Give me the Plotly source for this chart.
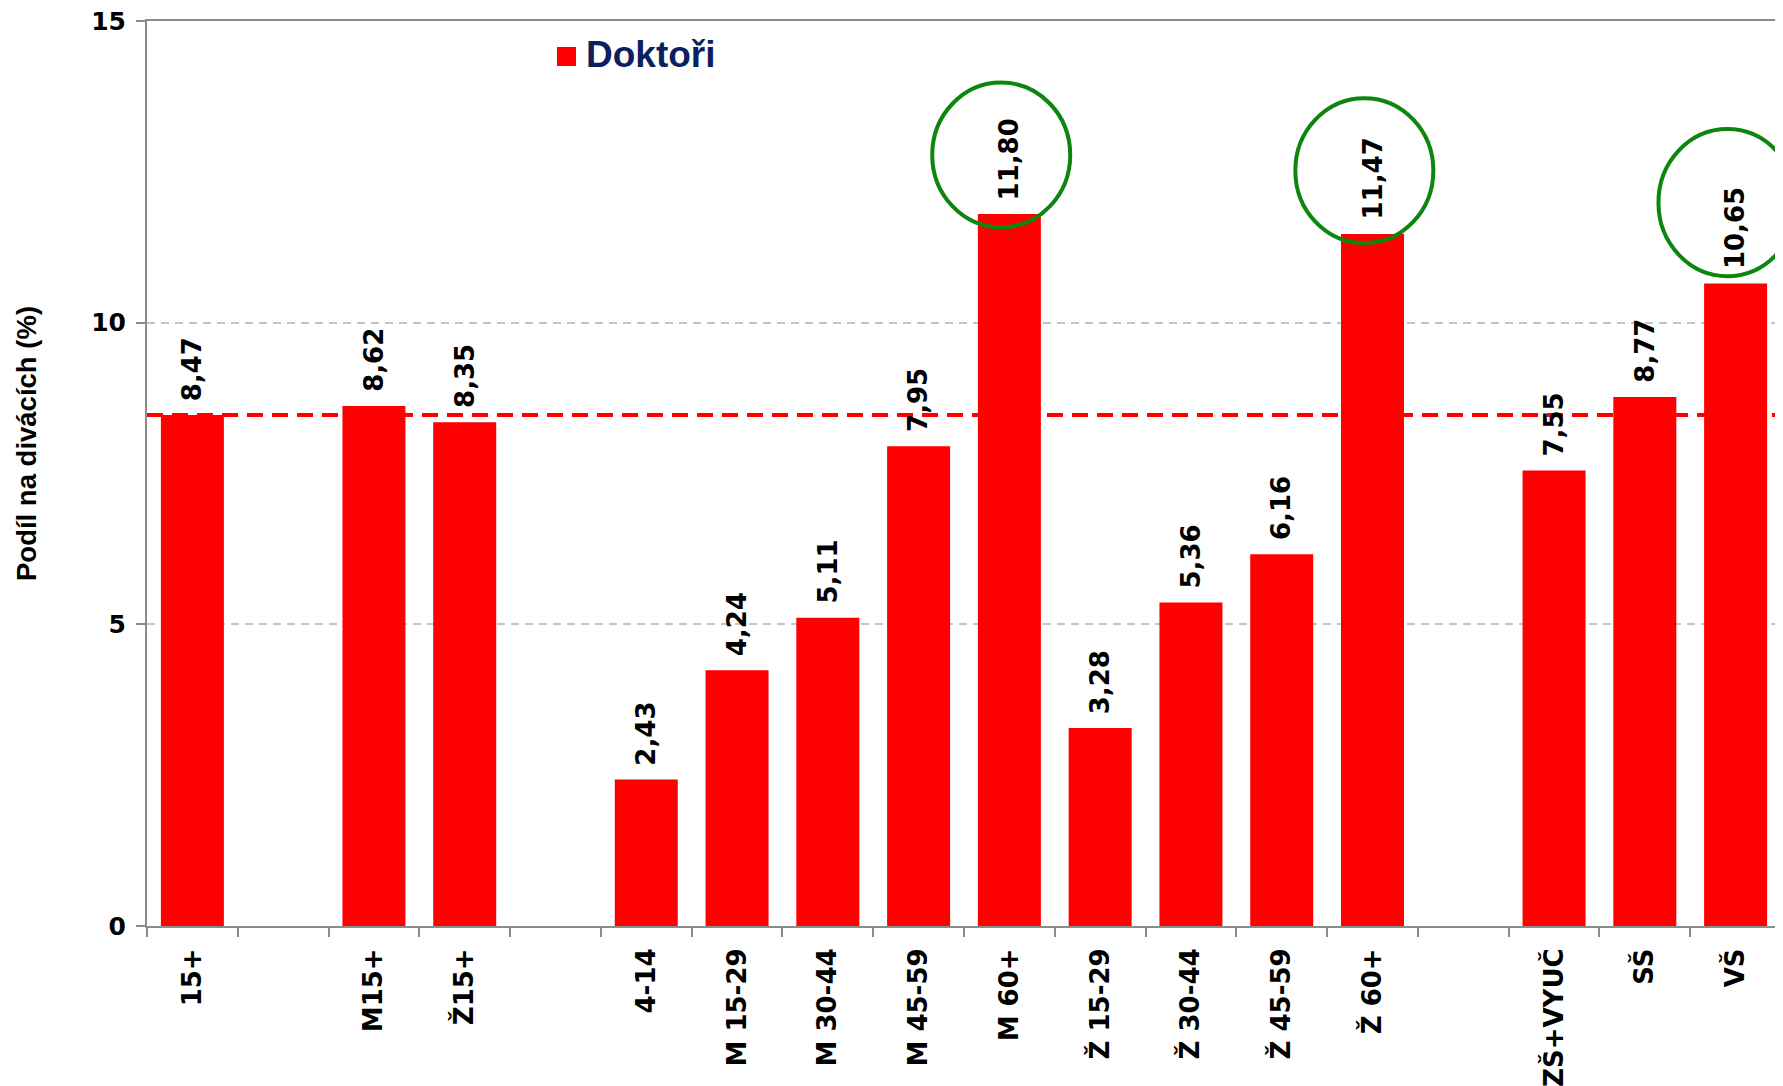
import plotly.graph_objects as go

# ---------------- data ----------------
categories = ["15+", " ", "M15+", "Ž15+", "  ", "4-14", "M 15-29", "M 30-44",
              "M 45-59", "M 60+", "Ž 15-29", "Ž 30-44", "Ž 45-59", "Ž 60+",
              "   ", "ZŠ+VYUČ", "SŠ", "VŠ"]
values = [8.47, None, 8.62, 8.35, None, 2.43, 4.24, 5.11, 7.95, 11.80, 3.28,
          5.36, 6.16, 11.47, None, 7.55, 8.77, 10.65]
series_name = "Doktoři"
y_ticks = [0, 5, 10, 15]
reference_value = values[0]          # 15+ average -> dashed line
highlighted = ["M 60+", "Ž 60+", "VŠ"]

# ---------------- layout constants ----------------
OFF = 8                      # page body margin offset
W, H = 1783, 1086
L, R, T, B = 139, 10, 13, 168
PW, PH = W - L - R, H - T - B

def px_x(px):
    return (px - OFF - L) / PW

def px_y(py):
    return (H - B - (py - OFF)) / PH

fig = go.Figure()
fig.add_trace(go.Bar(
    x=categories, y=values, name=series_name,
    marker=dict(color="#ff0000", line=dict(width=0)),
    showlegend=False,
))

# value labels
for c, v in zip(categories, values):
    if v is None:
        continue
    fig.add_annotation(
        x=c, y=v, xref="x", yref="y",
        text=f"{v:.2f}".replace(".", ","),
        textangle=-90, showarrow=False,
        xanchor="center", yanchor="bottom", yshift=12,
        font=dict(family="DejaVu Sans", size=26, color="black", weight="bold"),
    )

# dashed average line
fig.add_shape(type="line", xref="paper", yref="y", x0=0, x1=1,
              y0=reference_value, y1=reference_value,
              line=dict(color="#ff0000", width=4, dash="16px,9px"),
              layer="below")

# green ellipses around highlighted labels (offsets above each bar)
ell_center_dy = [0.98, 1.05, 1.34]
ell_half_h = [1.20, 1.20, 1.22]
for cat, dy, hh in zip(highlighted, ell_center_dy, ell_half_h):
    i = categories.index(cat)
    v = values[i]
    cx = i - 0.09
    fig.add_shape(type="circle", xref="x", yref="y",
                  x0=cx - 0.76, x1=cx + 0.76,
                  y0=v + dy - hh, y1=v + dy + hh,
                  line=dict(color="#0e850e", width=4))

# legend (manual)
fig.add_shape(type="rect", xref="paper", yref="paper",
              x0=px_x(557), x1=px_x(576), y0=px_y(66), y1=px_y(47),
              fillcolor="#ff0000", line=dict(width=0))
fig.add_annotation(xref="paper", yref="paper", x=px_x(584), y=px_y(55),
                   xanchor="left", yanchor="middle", showarrow=False,
                   text=series_name,
                   font=dict(family="Liberation Sans", size=37,
                             color="#0c1f5e", weight="bold"))

# y axis title
fig.add_annotation(xref="paper", yref="paper", x=px_x(26), y=px_y(444),
                   xanchor="center", yanchor="middle", showarrow=False,
                   textangle=-90, text="Podíl na divácích (%)",
                   font=dict(family="Liberation Sans", size=27.5,
                             color="black", weight="bold"))

fig.update_layout(
    width=W, height=H,
    margin=dict(l=L, r=R, t=T, b=B, autoexpand=False),
    paper_bgcolor="white", plot_bgcolor="white",
    bargap=0.306,
    xaxis=dict(
        type="category", categoryorder="array", categoryarray=categories,
        tickson="boundaries", ticks="outside", ticklen=9, tickwidth=1.5,
        tickcolor="#8c8c8c", showline=True, linecolor="#8c8c8c", linewidth=2,
        mirror=True, showgrid=False, tickangle=-90, ticklabelstandoff=10,
        tickfont=dict(family="DejaVu Sans", size=26, color="black", weight="bold"),
        range=[-0.5, len(categories) - 0.5], ticklabeloverflow="allow",
    ),
    yaxis=dict(
        range=[0, 15], tickvals=y_ticks, ticktext=[str(t) for t in y_ticks],
        ticks="outside", ticklen=9, tickwidth=1.5, tickcolor="#8c8c8c",
        showline=True, linecolor="#8c8c8c", linewidth=2, mirror=True,
        showgrid=True, gridcolor="#c4c4c4", gridwidth=1.5, griddash="8px,6px",
        zeroline=False, ticklabelstandoff=5, ticklabeloverflow="allow",
        tickfont=dict(family="DejaVu Sans", size=25, color="black", weight="bold"),
    ),
)

fig.write_html("out.html")
